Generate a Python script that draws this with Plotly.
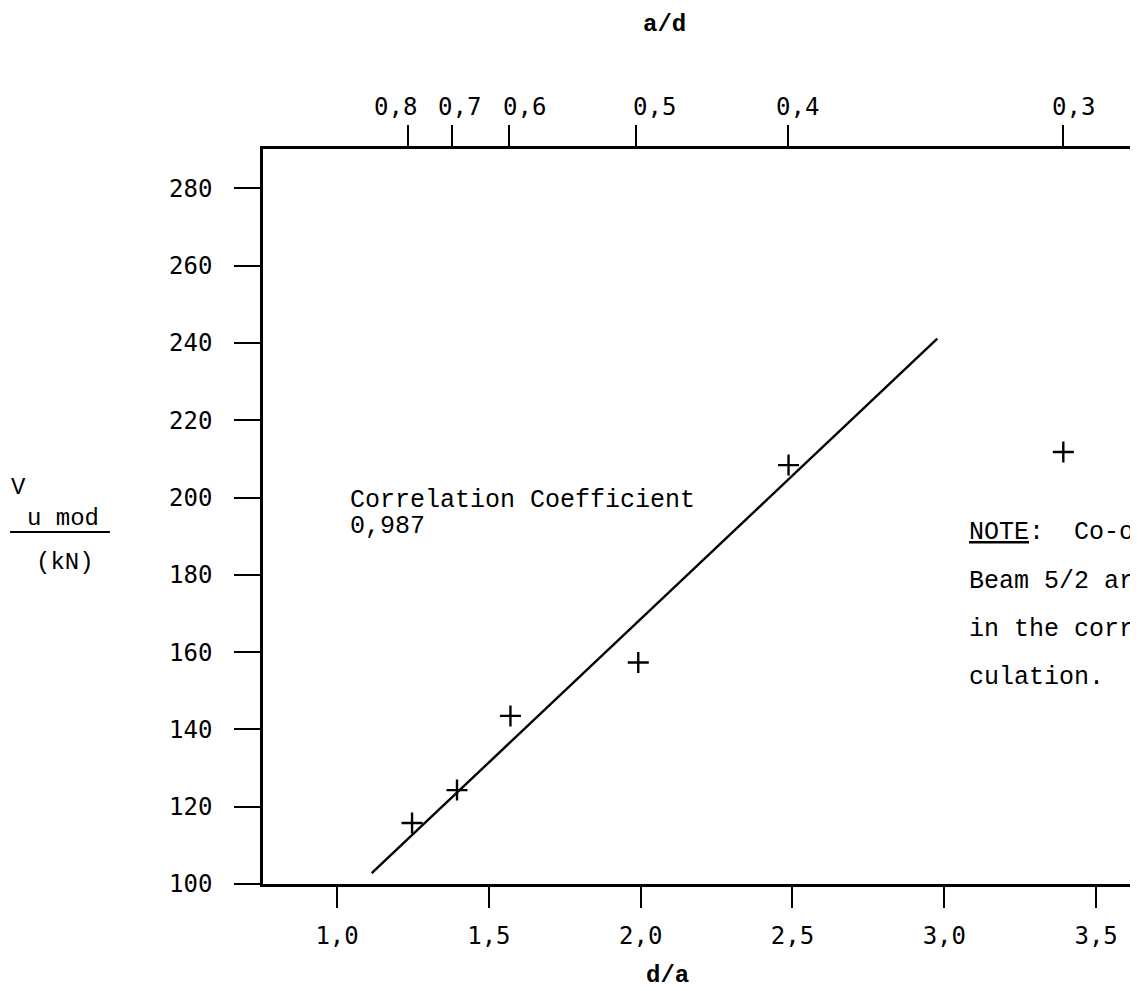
import plotly.graph_objects as go

# ---- data ----
d_over_a = [1.247, 1.395, 1.571, 1.992, 2.487, 3.392]
v_u_mod = [115.8, 124.3, 143.5, 157.3, 208.4, 211.8]

fit_x = [1.114, 2.977]
fit_y = [102.8, 241.1]

bottom_tickvals = [1.0, 1.5, 2.0, 2.5, 3.0, 3.5]
bottom_ticktext = ["1,0", "1,5", "2,0", "2,5", "3,0", "3,5"]

# a/d tick positions as drawn (in d/a units) and where their labels sit
top_tickvals = [1.233, 1.379, 1.567, 1.984, 2.484, 3.390]
top_ticktext = ["0,8", "0,7", "0,6", "0,5", "0,4", "0,3"]
top_label_x = [1.194, 1.402, 1.616, 2.044, 2.518, 3.424]

y_tickvals = [100, 120, 140, 160, 180, 200, 220, 240, 260, 280]
y_ticktext = [str(v) for v in y_tickvals]

note_lines = ["<span style='text-decoration:underline'>NOTE</span>:  Co-ordinates of",
              "Beam 5/2 are not included",
              "in the correlation cal-",
              "culation."]
note_y = [191.0, 178.4, 165.9, 153.5]

X_RANGE = [0.756, 3.638]
Y_RANGE = [100, 290.2]

TICKFONT = dict(family="DejaVu Sans Mono", size=24, color="black")
TXTFONT = dict(family="Liberation Mono", size=25, color="black")
TITLEFONT = dict(family="Liberation Mono", size=24, color="black")

fig = go.Figure()

fig.add_trace(go.Scatter(
    x=fit_x, y=fit_y, mode="lines",
    line=dict(color="black", width=2.4),
    showlegend=False, hoverinfo="skip", cliponaxis=False))

fig.add_trace(go.Scatter(
    x=d_over_a, y=v_u_mod, mode="markers",
    marker=dict(symbol="cross-thin", size=15, line=dict(color="black", width=2.4)),
    showlegend=False, cliponaxis=False))

# invisible trace to activate top axis
fig.add_trace(go.Scatter(x=[X_RANGE[0]], y=[Y_RANGE[0]], xaxis="x2", mode="markers",
                         marker=dict(opacity=0), showlegend=False, hoverinfo="skip"))

fig.update_layout(
    width=1130, height=983,
    margin=dict(l=255, r=0, t=141, b=107, pad=0),
    paper_bgcolor="white", plot_bgcolor="white",
    xaxis=dict(range=X_RANGE, showgrid=False, zeroline=False,
               showline=True, linecolor="black", linewidth=2.5,
               ticks="outside", ticklen=21, tickwidth=2, tickcolor="black",
               tickvals=bottom_tickvals, ticktext=bottom_ticktext,
               tickfont=TICKFONT, ticklabelstandoff=7),
    xaxis2=dict(range=X_RANGE, overlaying="x", side="top", showgrid=False,
                zeroline=False, showline=True, linecolor="black", linewidth=2.5,
                ticks="outside", ticklen=21, tickwidth=2, tickcolor="black",
                tickvals=top_tickvals, showticklabels=False),
    yaxis=dict(range=Y_RANGE, showgrid=False, zeroline=False,
               showline=True, linecolor="black", linewidth=2.5,
               ticks="outside", ticklen=26, tickwidth=2, tickcolor="black",
               tickvals=y_tickvals, ticktext=y_ticktext,
               tickfont=TICKFONT, ticklabelstandoff=17),
)

ann = []
# top (a/d) tick labels
for t, xx in zip(top_ticktext, top_label_x):
    ann.append(dict(text=t, x=xx, y=1.057, xref="x", yref="paper", showarrow=False,
                    font=TICKFONT, xanchor="center", yanchor="middle"))
# axis titles
ann.append(dict(text="<b>a/d</b>", xref="paper", yref="paper", x=0.459, y=1.169,
                showarrow=False, font=TITLEFONT, xanchor="center", yanchor="middle"))
ann.append(dict(text="<b>d/a</b>", xref="paper", yref="paper", x=0.462, y=-0.124,
                showarrow=False, font=TITLEFONT, xanchor="center", yanchor="middle"))
ann.append(dict(text="V", xref="paper", yref="paper", x=-0.279, y=0.539,
                showarrow=False, font=TITLEFONT, xanchor="center", yanchor="middle"))
ann.append(dict(text="u mod", xref="paper", yref="paper", x=-0.272, y=0.497,
                showarrow=False, font=TITLEFONT, xanchor="left", yanchor="middle"))
ann.append(dict(text="(kN)", xref="paper", yref="paper", x=-0.226, y=0.438,
                showarrow=False, font=TITLEFONT, xanchor="center", yanchor="middle"))
# correlation text
ann.append(dict(text="Correlation Coefficient", x=1.036, y=199.3, xref="x", yref="y",
                showarrow=False, font=TXTFONT, xanchor="left", yanchor="middle"))
ann.append(dict(text="0,987", x=1.036, y=192.6, xref="x", yref="y",
                showarrow=False, font=TXTFONT, xanchor="left", yanchor="middle"))
for t, yy in zip(note_lines, note_y):
    ann.append(dict(text=t, x=3.075, y=yy, xref="x", yref="y", showarrow=False,
                    font=TXTFONT, xanchor="left", yanchor="middle"))
fig.update_layout(annotations=ann)

# fraction bar of y title
fig.add_shape(type="line", xref="paper", yref="paper", x0=-0.289, x1=-0.175,
              y0=0.479, y1=0.479, line=dict(color="black", width=2))

fig.write_html("out.html")
